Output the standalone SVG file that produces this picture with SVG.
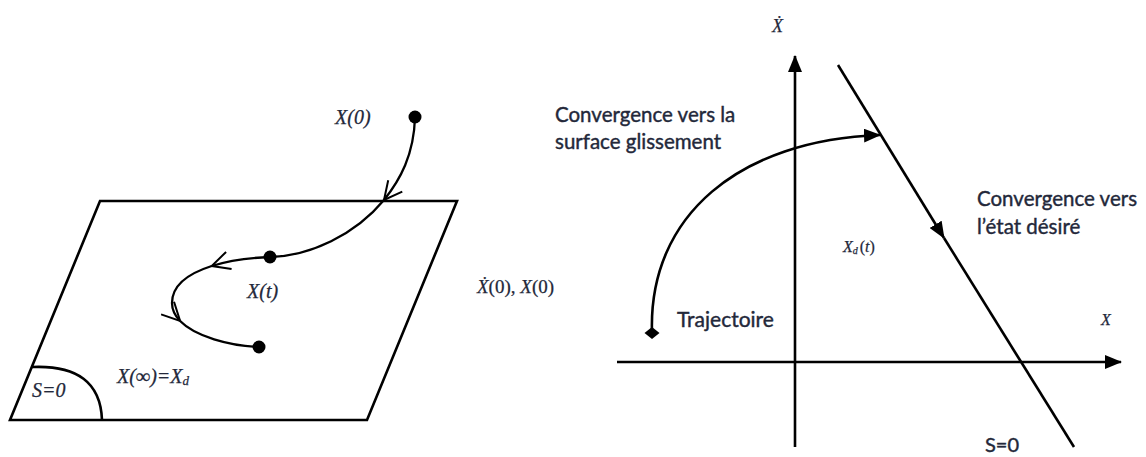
<svg xmlns="http://www.w3.org/2000/svg" width="1146" height="457" viewBox="0 0 1146 457">
  <style>
    .ln { fill: none; stroke: #000; stroke-width: 2.6; }
    .th { fill: none; stroke: #000; stroke-width: 2.3; }
    .math { font-family: "Liberation Serif", "DejaVu Serif", serif; font-style: italic; fill: #23283a; stroke: #23283a; stroke-width: 0.25; }
    .up { font-style: normal; }
    .lbl { font-family: Lato, "Open Sans", "Liberation Sans", sans-serif; fill: #23283a; stroke: #23283a; stroke-width: 0.4; }
  </style>
  <defs>
    <marker id="openArrow" viewBox="0 0 20 20" refX="19" refY="10" markerWidth="20" markerHeight="20" markerUnits="userSpaceOnUse" orient="auto">
      <path d="M1,1 L19,10 L1,19" fill="none" stroke="#000" stroke-width="2"/>
    </marker>
    <marker id="solidArrow" viewBox="0 0 17 14" refX="16" refY="7" markerWidth="17" markerHeight="14" markerUnits="userSpaceOnUse" orient="auto">
      <path d="M0,0 L17,7 L0,14 Z" fill="#000"/>
    </marker>
  </defs>

  <!-- LEFT DIAGRAM -->
  <g id="sliding-plane">
    <polygon class="ln" points="100,201 457,201 367,420 10,420"/>
    <path class="ln" d="M32,367 Q100,364 102,420"/>
    <text class="math" x="32" y="397" font-size="20">S=0</text>
  </g>

  <g id="connectors-left">
    <path class="th" d="M415,117 C414,155 400,180 384,200" marker-end="url(#openArrow)"/>
    <path class="th" d="M384,200 C355,235 310,256 270,257"/>
    <path class="th" d="M270,257 C248,257.8 227.9,260.8 211.7,266" marker-end="url(#openArrow)"/>
    <path class="th" d="M211.7,266 C187.5,273.7 172,286.2 172,303"/>
    <path class="th" d="M172,303 C172,309.75 175,315.75 180.1,321" marker-end="url(#openArrow)"/>
    <path class="th" d="M180.1,321 C195.4,336.7 229.5,345.5 258,347"/>
  </g>

  <g id="point-x0">
    <circle cx="415" cy="117" r="6.5" fill="#000"/>
    <text class="math" x="335" y="124" font-size="20">X(0)</text>
  </g>
  <g id="point-xt">
    <circle cx="270" cy="257" r="6.5" fill="#000"/>
    <text class="math" x="247" y="298" font-size="20">X(t)</text>
  </g>
  <g id="point-xinf">
    <circle cx="259" cy="347" r="6.5" fill="#000"/>
    <text class="math" x="117" y="383" font-size="20">X(∞)=X<tspan font-size="13" dy="2">d</tspan></text>
  </g>
  <g id="initial-condition">
    <text class="math" x="477" y="293" font-size="19">Ẋ<tspan class="up">(0), </tspan>X<tspan class="up">(0)</tspan></text>
  </g>

  <!-- RIGHT DIAGRAM -->
  <g id="axes">
    <line class="ln" x1="795" y1="447" x2="795" y2="56" marker-end="url(#solidArrow)"/>
    <line class="ln" x1="617" y1="362" x2="1121" y2="362" marker-end="url(#solidArrow)"/>
    <text class="math" x="772" y="32" font-size="18">Ẋ</text>
    <text class="math" x="1101" y="325" font-size="16">X</text>
  </g>

  <g id="sliding-line">
    <line class="ln" x1="838" y1="65" x2="944" y2="238" marker-end="url(#solidArrow)"/>
    <line class="ln" x1="944" y1="238" x2="1074" y2="447"/>
    <text class="lbl" x="985" y="452" font-size="20">S=0</text>
  </g>

  <g id="trajectory">
    <path class="ln" d="M652,333 C648,215 740,140 880,135" marker-end="url(#solidArrow)"/>
    <polygon points="652,327 659.5,333 652,339 644.5,333" fill="#000"/>
    <text class="lbl" x="677" y="327" font-size="21">Trajectoire</text>
  </g>

  <g id="label-reach">
    <text class="lbl" x="555" y="122" font-size="20.5">Convergence vers la</text>
    <text class="lbl" x="555" y="149" font-size="20.5">surface glissement</text>
  </g>

  <g id="label-slide">
    <text class="lbl" x="977" y="206" font-size="20.5">Convergence vers</text>
    <text class="lbl" x="977" y="234" font-size="20.5">l’état désiré</text>
  </g>

  <g id="desired-state">
    <text class="math" x="843" y="252" font-size="16">X<tspan font-size="10" dy="2">d</tspan><tspan class="up" dx="2" dy="-2">(</tspan>t<tspan class="up">)</tspan></text>
  </g>
</svg>
